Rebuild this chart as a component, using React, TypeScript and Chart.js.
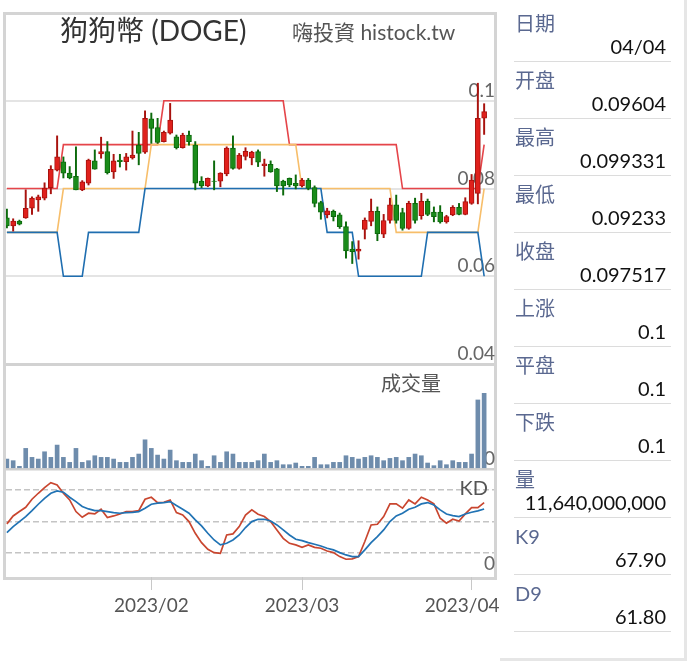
import React, { useEffect, useRef } from 'react';
import { Chart, registerables } from 'chart.js';

Chart.register(...registerables);

// ---- data ----
const opens = [
  0.0733, 0.0715, 0.0726, 0.0733, 0.0755, 0.0774, 0.0778, 0.0802, 0.0842, 0.0861,
  0.0835, 0.0828, 0.0797, 0.0812, 0.0863, 0.0879, 0.0884, 0.0838, 0.0865, 0.0861,
  0.0870, 0.0899, 0.0883, 0.0959, 0.0939, 0.0907, 0.0926, 0.0918, 0.0893, 0.0922,
  0.0899, 0.0817, 0.0806, 0.0817, 0.0817, 0.0833, 0.0892, 0.0846, 0.0873, 0.0870,
  0.0884, 0.0852, 0.0855, 0.0845, 0.0817, 0.0823, 0.0812, 0.0806, 0.0819, 0.0802,
  0.0768, 0.0740, 0.0748, 0.0740, 0.0713, 0.0662, 0.0657, 0.0707, 0.0725, 0.0748,
  0.0696, 0.0727, 0.0763, 0.0745, 0.0709, 0.0766, 0.0738, 0.0771, 0.0746, 0.0746,
  0.0724, 0.0740, 0.0757, 0.0741, 0.0766, 0.0789, 0.09604,
];
const highs = [
  0.0753, 0.0731, 0.0728, 0.0797, 0.0781, 0.0785, 0.0813, 0.0852, 0.0920, 0.0872,
  0.0850, 0.0895, 0.0818, 0.0867, 0.0888, 0.0917, 0.0907, 0.0878, 0.0878, 0.0880,
  0.0931, 0.0928, 0.0977, 0.0972, 0.0960, 0.0931, 0.0994, 0.0922, 0.0926, 0.0931,
  0.0907, 0.0827, 0.0824, 0.0863, 0.0836, 0.0895, 0.0920, 0.0880, 0.0893, 0.0885,
  0.0888, 0.0867, 0.0863, 0.0846, 0.0819, 0.0824, 0.0831, 0.0823, 0.0823, 0.0806,
  0.0771, 0.0755, 0.0751, 0.0744, 0.0724, 0.0679, 0.0681, 0.0733, 0.0776, 0.0758,
  0.0741, 0.0778, 0.0785, 0.0755, 0.0771, 0.0778, 0.0789, 0.0776, 0.0758, 0.0761,
  0.0739, 0.0761, 0.0766, 0.0779, 0.0832, 0.1040, 0.099331,
];
const lows = [
  0.0710, 0.0703, 0.0717, 0.0732, 0.0741, 0.0748, 0.0774, 0.0788, 0.0840, 0.0824,
  0.0822, 0.0797, 0.0795, 0.0808, 0.0844, 0.0869, 0.0833, 0.0823, 0.0849, 0.0842,
  0.0867, 0.0854, 0.0880, 0.0903, 0.0903, 0.0906, 0.0924, 0.0890, 0.0892, 0.0899,
  0.0797, 0.0802, 0.0804, 0.0797, 0.0804, 0.0829, 0.0844, 0.0844, 0.0865, 0.0854,
  0.0850, 0.0828, 0.0837, 0.0793, 0.0785, 0.0804, 0.0799, 0.0804, 0.0797, 0.0758,
  0.0730, 0.0733, 0.0726, 0.0709, 0.0641, 0.0629, 0.0639, 0.0685, 0.0715, 0.0681,
  0.0688, 0.0721, 0.0721, 0.0705, 0.0707, 0.0721, 0.0730, 0.0738, 0.0724, 0.0721,
  0.0721, 0.0738, 0.0740, 0.0740, 0.0764, 0.0765, 0.09233,
];
const closes = [
  0.0715, 0.0726, 0.0719, 0.0755, 0.0778, 0.0781, 0.0801, 0.0844, 0.0872, 0.0835,
  0.0824, 0.0797, 0.0815, 0.0865, 0.0844, 0.0884, 0.0836, 0.0863, 0.0861, 0.0872,
  0.0876, 0.0880, 0.0960, 0.0937, 0.0905, 0.0928, 0.0956, 0.0893, 0.0922, 0.0907,
  0.0812, 0.0806, 0.0823, 0.0816, 0.0835, 0.0892, 0.0846, 0.0876, 0.0885, 0.0883,
  0.0860, 0.0856, 0.0838, 0.0806, 0.0806, 0.0808, 0.0806, 0.0819, 0.0800, 0.0766,
  0.0746, 0.0749, 0.0736, 0.0713, 0.0658, 0.0656, 0.0662, 0.0728, 0.0748, 0.0697,
  0.0727, 0.0763, 0.0727, 0.0709, 0.0766, 0.0727, 0.0771, 0.0741, 0.0736, 0.0724,
  0.0736, 0.0757, 0.0741, 0.0770, 0.0819, 0.0960, 0.097517,
];
// volume in billions
const volumes = [
  1.53, 1.28, 0.41, 3.17, 1.79, 1.53, 2.65, 1.79, 3.68, 1.79,
  1.02, 3.17, 1.02, 1.28, 2.04, 1.79, 1.79, 1.53, 1.02, 1.02,
  1.79, 2.30, 4.49, 3.17, 2.14, 1.53, 2.91, 1.28, 1.02, 1.02,
  2.30, 1.28, 0.41, 2.04, 1.02, 2.65, 2.30, 1.02, 1.02, 1.02,
  1.28, 2.30, 1.02, 1.28, 0.66, 0.66, 0.92, 0.41, 0.41, 1.79,
  0.66, 0.66, 1.02, 1.02, 2.04, 1.79, 1.53, 1.79, 2.04, 1.79,
  1.28, 1.63, 1.79, 1.28, 1.79, 2.30, 2.04, 0.92, 0.51, 1.28,
  0.66, 1.28, 1.02, 1.02, 2.30, 10.62, 11.64,
];
const kValues = [
  47.5, 55.1, 59.3, 63.4, 71.1, 76.8, 82.2, 87.0, 84.8, 76.8,
  70.4, 59.3, 53.8, 57.7, 57.0, 61.5, 53.5, 55.1, 57.0, 59.3,
  59.3, 60.2, 71.1, 73.0, 67.9, 68.2, 70.4, 58.3, 56.1, 49.7,
  38.5, 29.6, 23.2, 20.0, 19.4, 36.9, 37.9, 44.9, 56.0, 60.9,
  56.7, 54.5, 49.7, 41.7, 33.7, 28.9, 27.4, 25.1, 27.4, 25.1,
  24.2, 21.6, 20.0, 16.2, 13.7, 14.0, 16.2, 30.6, 46.5, 47.1,
  54.5, 66.6, 66.6, 62.5, 70.4, 66.6, 73.0, 70.4, 66.6, 52.9,
  48.1, 51.9, 50.3, 57.0, 63.1, 63.1, 67.9,
];
const dValues = [
  39.2, 44.9, 49.7, 54.5, 60.2, 66.3, 72.0, 76.8, 79.0, 77.8,
  73.0, 68.8, 64.1, 61.8, 60.2, 60.2, 59.3, 58.3, 57.7, 58.3,
  58.6, 59.3, 62.5, 66.3, 67.3, 67.9, 68.8, 65.0, 61.5, 57.7,
  51.3, 45.6, 38.5, 32.1, 27.4, 29.0, 32.1, 36.9, 44.0, 49.7,
  51.9, 51.9, 50.3, 46.5, 41.7, 36.9, 32.8, 31.5, 29.6, 28.0,
  26.4, 24.2, 22.6, 20.0, 17.8, 16.2, 16.2, 22.6, 29.6, 35.3,
  41.7, 49.7, 55.1, 57.7, 61.5, 63.4, 66.6, 67.9, 65.6, 60.9,
  57.0, 55.4, 54.5, 57.0, 58.6, 59.9, 61.8,
];
const upperBand = [
  0.08, 0.08, 0.08, 0.08, 0.08, 0.08, 0.08, 0.08, 0.08, 0.09,
  0.09, 0.09, 0.09, 0.09, 0.09, 0.09, 0.09, 0.09, 0.09, 0.09,
  0.09, 0.09, 0.09, 0.09, 0.09, 0.1, 0.1, 0.1, 0.1, 0.1,
  0.1, 0.1, 0.1, 0.1, 0.1, 0.1, 0.1, 0.1, 0.1, 0.1,
  0.1, 0.1, 0.1, 0.1, 0.1, 0.09, 0.09, 0.09, 0.09, 0.09,
  0.09, 0.09, 0.09, 0.09, 0.09, 0.09, 0.09, 0.09, 0.09, 0.09,
  0.09, 0.09, 0.09, 0.08, 0.08, 0.08, 0.08, 0.08, 0.08, 0.08,
  0.08, 0.08, 0.08, 0.08, 0.08, 0.08, 0.09,
];
const midBand = [
  0.07, 0.07, 0.07, 0.07, 0.07, 0.07, 0.07, 0.07, 0.07, 0.08,
  0.08, 0.08, 0.08, 0.08, 0.08, 0.08, 0.08, 0.08, 0.08, 0.08,
  0.08, 0.08, 0.08, 0.09, 0.09, 0.09, 0.09, 0.09, 0.09, 0.09,
  0.09, 0.09, 0.09, 0.09, 0.09, 0.09, 0.09, 0.09, 0.09, 0.09,
  0.09, 0.09, 0.09, 0.09, 0.09, 0.09, 0.09, 0.08, 0.08, 0.08,
  0.08, 0.08, 0.08, 0.08, 0.08, 0.08, 0.08, 0.08, 0.08, 0.08,
  0.08, 0.08, 0.07, 0.07, 0.07, 0.07, 0.07, 0.07, 0.07, 0.07,
  0.07, 0.07, 0.07, 0.07, 0.07, 0.07, 0.08,
];
const lowerBand = [
  0.07, 0.07, 0.07, 0.07, 0.07, 0.07, 0.07, 0.07, 0.07, 0.06,
  0.06, 0.06, 0.06, 0.07, 0.07, 0.07, 0.07, 0.07, 0.07, 0.07,
  0.07, 0.07, 0.08, 0.08, 0.08, 0.08, 0.08, 0.08, 0.08, 0.08,
  0.08, 0.08, 0.08, 0.08, 0.08, 0.08, 0.08, 0.08, 0.08, 0.08,
  0.08, 0.08, 0.08, 0.08, 0.08, 0.08, 0.08, 0.08, 0.08, 0.08,
  0.08, 0.07, 0.07, 0.07, 0.07, 0.07, 0.06, 0.06, 0.06, 0.06,
  0.06, 0.06, 0.06, 0.06, 0.06, 0.06, 0.06, 0.07, 0.07, 0.07,
  0.07, 0.07, 0.07, 0.07, 0.07, 0.07, 0.06,
];
const monthTickIndex = [23, 47, 74];
const monthTickLabels = ['2023/02', '2023/03', '2023/04'];
const priceTicks = [0.04, 0.06, 0.08, 0.1];
const volumeTicks = [0];
const kdTicks = [0, 20, 50, 80];
const infoLabels = ['日期', '开盘', '最高', '最低', '收盘', '上涨', '平盘', '下跌', '量', 'K9', 'D9'];
const infoValues = ['04/04', '0.09604', '0.099331', '0.09233', '0.097517', '0.1', '0.1', '0.1', '11,640,000,000', '67.90', '61.80'];

// ---- styles ----
const UP_FILL = '#e0201c';
const UP_LINE = '#a8120e';
const DOWN_FILL = '#1a8c1a';
const DOWN_LINE = '#0c6a0c';
const FONT = 'Lato, "Noto Sans CJK TC", sans-serif';

const zeroPad = (s: any) => {
  s.paddingTop = 0;
  s.paddingBottom = 0;
  s.paddingLeft = 0;
  s.paddingRight = 0;
};

function CandleChart() {
  const ref = useRef<HTMLCanvasElement | null>(null);
  useEffect(() => {
    if (!ref.current) return;
    const idx = opens.map((_, i) => i);
    const isUp = idx.map((i) => closes[i] >= opens[i]);
    const yTickFont = { family: 'Lato', size: 19 };
    const chart = new Chart(ref.current, {
      type: 'bar',
      data: {
        datasets: [
          {
            type: 'bar',
            data: idx.map((i) => ({ x: i, y: [opens[i], closes[i]] })),
            backgroundColor: idx.map((i) => (isUp[i] ? UP_FILL : DOWN_FILL)),
            borderColor: idx.map((i) => (isUp[i] ? UP_LINE : DOWN_LINE)),
            borderWidth: 1,
            borderSkipped: false,
            barThickness: 5,
            grouped: false,
            yAxisID: 'yPrice',
            order: 0,
          } as any,
          {
            type: 'bar',
            data: idx.map((i) => ({ x: i, y: [lows[i], highs[i]] })),
            backgroundColor: idx.map((i) => (isUp[i] ? UP_LINE : DOWN_LINE)),
            borderWidth: 0,
            barThickness: 1.3,
            grouped: false,
            yAxisID: 'yPrice',
            order: 1,
          } as any,
          {
            type: 'line',
            data: idx.map((i) => ({ x: i, y: lowerBand[i] })),
            borderColor: '#1f6eb0',
            borderWidth: 1.6,
            pointRadius: 0,
            tension: 0,
            yAxisID: 'yPrice',
            order: 2,
          } as any,
          {
            type: 'line',
            data: idx.map((i) => ({ x: i, y: midBand[i] })),
            borderColor: '#f7be6a',
            borderWidth: 1.6,
            pointRadius: 0,
            tension: 0,
            yAxisID: 'yPrice',
            order: 3,
          } as any,
          {
            type: 'line',
            data: idx.map((i) => ({ x: i, y: upperBand[i] })),
            borderColor: '#e5454a',
            borderWidth: 1.6,
            pointRadius: 0,
            tension: 0,
            yAxisID: 'yPrice',
            order: 4,
          } as any,
          {
            type: 'bar',
            data: idx.map((i) => ({ x: i, y: volumes[i] })),
            backgroundColor: '#6e8cac',
            borderWidth: 0,
            barThickness: 4,
            grouped: false,
            yAxisID: 'yVol',
            order: 5,
          } as any,
          {
            type: 'line',
            data: idx.map((i) => ({ x: i, y: dValues[i] })),
            borderColor: '#2173b4',
            borderWidth: 1.7,
            pointRadius: 0,
            tension: 0,
            yAxisID: 'yKD',
            order: 6,
          } as any,
          {
            type: 'line',
            data: idx.map((i) => ({ x: i, y: kValues[i] })),
            borderColor: '#c9462f',
            borderWidth: 1.7,
            pointRadius: 0,
            tension: 0,
            yAxisID: 'yKD',
            order: 7,
          } as any,
        ],
      },
      options: {
        responsive: false,
        animation: false,
        devicePixelRatio: 1,
        events: [],
        layout: { padding: { left: 0, top: 0, right: 20, bottom: 0 } },
        plugins: { legend: { display: false }, title: { display: false }, tooltip: { enabled: false } },
        scales: {
          x: {
            type: 'linear',
            position: 'bottom',
            min: -0.14,
            max: 77.57,
            offset: false,
            afterBuildTicks: (s: any) => {
              s.ticks = monthTickIndex.map((v) => ({ value: v }));
            },
            afterFit: (s: any) => {
              s.height = 48;
              zeroPad(s);
            },
            grid: {
              offset: false,
              drawOnChartArea: false,
              drawTicks: true,
              tickLength: 13,
              color: '#c8c8c8',
              lineWidth: 1,
            },
            border: { display: false },
            ticks: {
              autoSkip: false,
              maxRotation: 0,
              minRotation: 0,
              padding: 4,
              color: '#555',
              font: { family: 'Lato', size: 19 },
              callback: (v: any) => {
                const k = monthTickIndex.indexOf(Number(v));
                if (k < 0) return '';
                // the last label is pushed left so it stays inside the frame
                return k === monthTickLabels.length - 1 ? monthTickLabels[k] + '\u2002\u2002' : monthTickLabels[k];
              },
            },
          },
          yPrice: {
            type: 'linear',
            position: 'right',
            stack: 'panels',
            stackWeight: 349,
            min: 0.04,
            max: 0.11955,
            beginAtZero: false,
            afterBuildTicks: (s: any) => {
              s.ticks = priceTicks.map((v) => ({ value: v }));
            },
            afterFit: (s: any) => {
              s.width = 0;
              zeroPad(s);
            },
            grid: {
              drawTicks: false,
              color: (c: any) => (c.tick && c.tick.value === 0.04 ? '#d2d2d2' : '#e4e4e4'),
              lineWidth: (c: any) => (c.tick && c.tick.value === 0.04 ? 3 : 2),
            },
            border: { display: false },
            ticks: {
              mirror: true,
              padding: 1,
              labelOffset: -10,
              autoSkip: false,
              color: '#666',
              font: yTickFont,
              callback: (v: any) => String(Number(Number(v).toFixed(2))),
            },
          },
          yVol: {
            type: 'linear',
            position: 'right',
            stack: 'panels',
            stackWeight: 105,
            min: 0,
            max: 16.15,
            afterBuildTicks: (s: any) => {
              s.ticks = volumeTicks.map((v) => ({ value: v }));
            },
            afterFit: (s: any) => {
              s.width = 0;
              zeroPad(s);
            },
            grid: { drawTicks: false, color: '#cfcfcf', lineWidth: 2.5 },
            border: { display: false },
            ticks: {
              mirror: true,
              padding: 1,
              labelOffset: -10,
              autoSkip: false,
              color: '#666',
              font: yTickFont,
              callback: () => '0',
            },
          },
          yKD: {
            type: 'linear',
            position: 'right',
            stack: 'panels',
            stackWeight: 108,
            min: -3.3,
            max: 100,
            beginAtZero: false,
            afterBuildTicks: (s: any) => {
              s.ticks = kdTicks.map((v) => ({ value: v }));
            },
            afterFit: (s: any) => {
              s.width = 0;
              zeroPad(s);
            },
            grid: {
              drawTicks: false,
              color: (c: any) => (c.tick && c.tick.value === 0 ? 'rgba(0,0,0,0)' : '#c4c4c4'),
              lineWidth: 1.5,
            },
            border: { display: false, dash: [6, 3] },
            ticks: {
              mirror: true,
              padding: 1,
              labelOffset: -10,
              autoSkip: false,
              color: '#666',
              font: yTickFont,
              callback: (v: any) => (Number(v) === 0 ? '0' : ''),
            },
          },
        },
      } as any,
    });
    return () => chart.destroy();
  }, []);
  return (
    <canvas
      ref={ref}
      width={508}
      height={610}
      style={{ position: 'absolute', left: 6, top: 15, width: 508, height: 610 }}
    />
  );
}

export default function App() {
  return (
    <div
      style={{
        position: 'fixed',
        left: 0,
        top: 0,
        width: 691,
        height: 662,
        background: '#fff',
        overflow: 'hidden',
        fontFamily: FONT,
      }}
    >
      <div
        style={{
          position: 'absolute',
          left: 3,
          top: 12,
          width: 494,
          height: 568,
          border: '3px solid #d4d4d4',
          boxSizing: 'border-box',
        }}
      />
      <CandleChart />
      <div
        style={{
          position: 'absolute',
          left: 60,
          top: 16,
          fontSize: 28,
          lineHeight: 1,
          color: '#333',
          whiteSpace: 'nowrap',
        }}
      >
        狗狗幣 (DOGE)
      </div>
      <div
        style={{
          position: 'absolute',
          left: 292,
          top: 21,
          fontSize: 21,
          lineHeight: 1,
          color: '#555',
          whiteSpace: 'nowrap',
        }}
      >
        嗨投資 histock.tw
      </div>
      <div
        style={{
          position: 'absolute',
          left: 381,
          top: 373,
          fontSize: 20,
          lineHeight: 1,
          color: '#555',
          whiteSpace: 'nowrap',
        }}
      >
        成交量
      </div>
      <div
        style={{
          position: 'absolute',
          right: 203,
          top: 477,
          fontSize: 20,
          lineHeight: 1,
          color: '#555',
          whiteSpace: 'nowrap',
        }}
      >
        KD
      </div>
      {infoLabels.map((lab, k) => (
        <React.Fragment key={lab}>
          <div
            style={{
              position: 'absolute',
              left: 515,
              top: 13 + 57 * k,
              fontSize: 20,
              lineHeight: 1,
              color: '#5a6890',
              fontFamily: 'Lato, "Noto Sans CJK SC", sans-serif',
              whiteSpace: 'nowrap',
            }}
          >
            {lab}
          </div>
          <div
            style={{
              position: 'absolute',
              right: 25,
              top: 35.6 + 57 * k,
              fontSize: 20,
              lineHeight: 1,
              color: '#111',
              fontFamily: 'Lato, sans-serif',
              whiteSpace: 'nowrap',
            }}
          >
            {infoValues[k]}
          </div>
          <div
            style={{
              position: 'absolute',
              left: 514,
              top: 61 + 57 * k,
              width: 157,
              height: 1,
              background: '#dcdcdc',
            }}
          />
        </React.Fragment>
      ))}
      <div
        style={{
          position: 'absolute',
          left: 684,
          top: 0,
          width: 3,
          height: 661,
          background: '#e6e6e6',
        }}
      />
      <div
        style={{
          position: 'absolute',
          left: 500,
          top: 658,
          width: 187,
          height: 3,
          background: '#e6e6e6',
        }}
      />
    </div>
  );
}
